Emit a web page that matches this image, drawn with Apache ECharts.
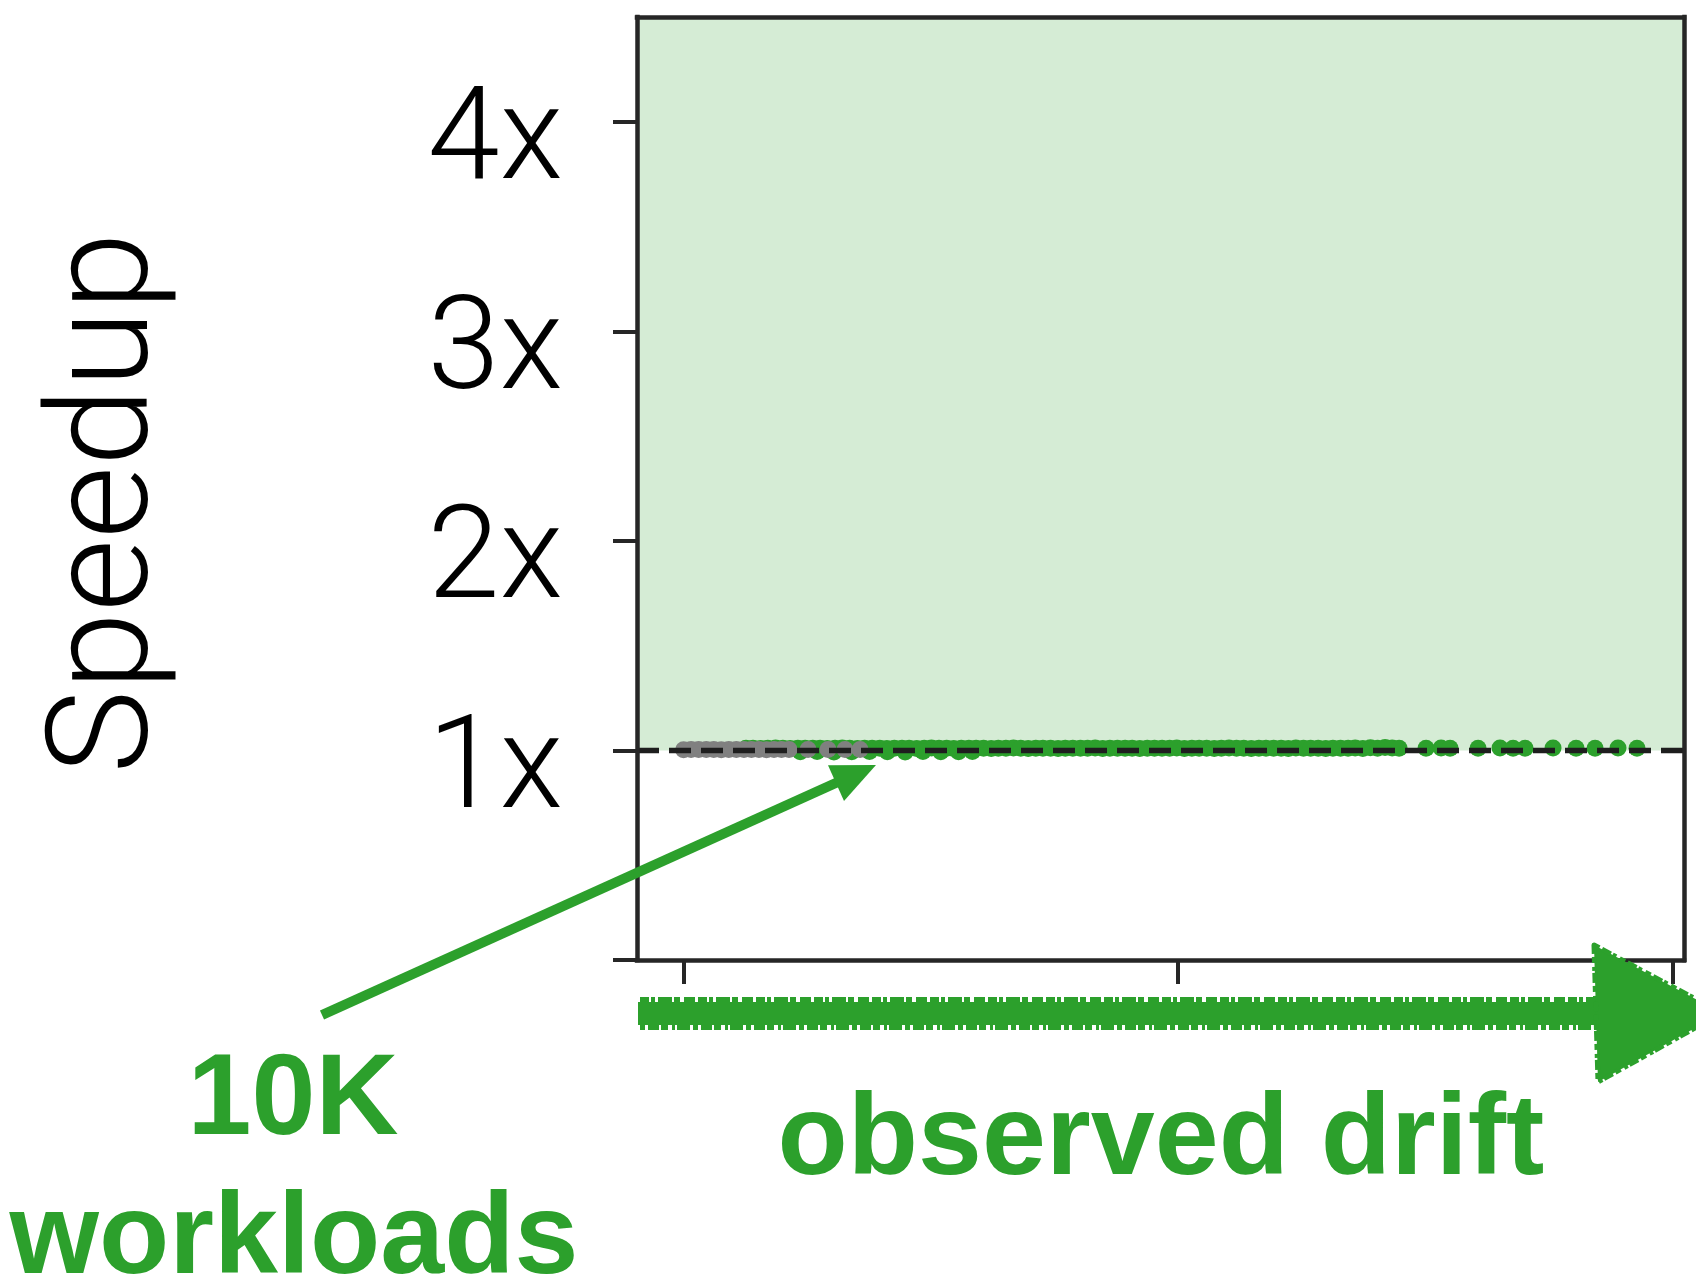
<!DOCTYPE html>
<html>
<head>
<meta charset="utf-8">
<script src="https://cdn.jsdelivr.net/npm/echarts@6/dist/echarts.min.js"></script>
<style>
  html, body { margin: 0; padding: 0; background: #ffffff; }
  #chart { width: 1696px; height: 1283px; }
</style>
</head>
<body>
<div id="chart"></div>
<script>
// Per-workload speedup, workloads ordered by observed drift (x = workload index).
const X_MIN = -471;
const X_MAX = 10114;
const Y_MIN = 0;
const Y_MAX = 4.5;
const xTickValues = [0, 5000, 10000];
const yTickValues = [0, 1, 2, 3, 4];
const yTickLabels = ['', '1x', '2x', '3x', '4x'];
const baselineSpeedup = 1;

// Workloads with speedup measured under drift
const greenX = [
  631, 702, 779, 851, 930, 1004, 1078, 1155, 1229, 1306, 1380, 1452, 1531, 1604, 1679, 1757, 1830, 1906, 1983, 2055,
  2131, 2208, 2280, 2357, 2433, 2506, 2582, 2659, 2731, 2808, 2884, 2957, 3033, 3110, 3182, 3259, 3335, 3408, 3484, 3561,
  3633, 3710, 3786, 3859, 3935, 4012, 4084, 4161, 4237, 4310, 4386, 4463, 4535, 4612, 4688, 4761, 4837, 4914, 4986, 5063,
  5139, 5212, 5288, 5365, 5437, 5514, 5590, 5663, 5739, 5816, 5888, 5965, 6041, 6114, 6190, 6267, 6339, 6416, 6492, 6565,
  6641, 6718, 6790, 6867, 6943, 7016, 7092, 7164, 7234,
  1180, 1350, 1520, 1700, 1880, 2060, 2240, 2420, 2600, 2780, 2920,
  7506, 7658, 7749, 8032, 8254, 8386, 8507, 8790, 9023, 9215, 9447, 9639
];
const greenY = [
  1.010, 1.011, 1.009, 1.010, 1.012, 1.010, 1.009, 1.011, 1.010, 1.010, 1.011, 1.009, 1.010, 1.012, 1.010, 1.009, 1.010, 1.011, 1.010, 1.009,
  1.010, 1.011, 1.010, 1.009, 1.010, 1.012, 1.010, 1.010, 1.009, 1.011, 1.010, 1.010, 1.011, 1.009, 1.010, 1.010, 1.012, 1.010, 1.009, 1.010,
  1.011, 1.010, 1.009, 1.010, 1.010, 1.011, 1.010, 1.012, 1.009, 1.010, 1.010, 1.011, 1.010, 1.009, 1.010, 1.011, 1.010, 1.010, 1.012, 1.009,
  1.010, 1.010, 1.011, 1.009, 1.010, 1.012, 1.010, 1.011, 1.009, 1.010, 1.010, 1.011, 1.010, 1.009, 1.012, 1.010, 1.010, 1.011, 1.009, 1.010,
  1.011, 1.010, 1.012, 1.009, 1.013, 1.011, 1.014, 1.012, 1.011,
  0.994, 0.995, 0.993, 0.994, 0.995, 0.994, 0.993, 0.995, 0.994, 0.994, 0.995,
  1.011, 1.012, 1.010, 1.011, 1.012, 1.011, 1.010, 1.012, 1.011, 1.011, 1.012, 1.011
];

// Workloads without drift
const greyX = [0, 76, 152, 229, 305, 381, 457, 533, 610, 686, 762, 838, 914, 990, 1066, 1258, 1460, 1632, 1784];
const greyY = [1.003, 1.004, 1.004, 1.005, 1.004, 1.003, 1.004, 1.004, 1.005, 1.004, 1.004, 1.003, 1.004, 1.005, 1.004, 1.005, 1.004, 1.004, 1.005];

const GREEN = '#2ca02c';
const GREY = '#808080';
const FRAME = '#262626';
const MARK_SIZE = 17;

const zip = (xs, ys) => xs.map((x, i) => [x, ys[i]]);

const frameLine = { show: true, onZero: false, lineStyle: { color: FRAME, width: 4.5, cap: 'square' } };
const boldFont = 'bold 115px "Liberation Sans", Arial, sans-serif';

const chart = echarts.init(document.getElementById('chart'), null, { renderer: 'canvas' });

const option = {
  animation: false,
  backgroundColor: '#ffffff',
  grid: { left: 637, right: 12, top: 17, bottom: 323, containLabel: false, outerBoundsMode: 'none' },
  xAxis: [
    {
      type: 'value', min: X_MIN, max: X_MAX, position: 'bottom', z: 10,
      axisLine: frameLine,
      axisTick: { show: true, inside: false, length: 24, customValues: xTickValues, lineStyle: { color: FRAME, width: 4 } },
      axisLabel: { show: false },
      splitLine: { show: false }
    },
    {
      type: 'value', min: X_MIN, max: X_MAX, position: 'top', z: 10,
      axisLine: frameLine, axisTick: { show: false }, axisLabel: { show: false }, splitLine: { show: false }
    }
  ],
  yAxis: [
    {
      type: 'value', min: Y_MIN, max: Y_MAX, position: 'left', z: 10,
      axisLine: frameLine,
      axisTick: { show: true, inside: false, length: 24, customValues: yTickValues, lineStyle: { color: FRAME, width: 4 } },
      axisLabel: {
        show: true,
        customValues: yTickValues.filter((v, i) => yTickLabels[i] !== ''),
        formatter: (v) => yTickLabels[yTickValues.indexOf(v)],
        margin: 74,
        fontFamily: 'Roboto',
        fontWeight: 300,
        fontSize: 130,
        color: '#000000',
        verticalAlign: 'top',
        lineHeight: 48
      },
      splitLine: { show: false }
    },
    {
      type: 'value', min: Y_MIN, max: Y_MAX, position: 'right', z: 10,
      axisLine: frameLine, axisTick: { show: false }, axisLabel: { show: false }, splitLine: { show: false }
    }
  ],
  series: [
    {
      name: 'speedup region', type: 'line', data: [], z: 1, silent: true,
      markArea: {
        silent: true,
        itemStyle: { color: 'rgba(44,160,44,0.2)' },
        data: [[{ yAxis: baselineSpeedup }, { yAxis: Y_MAX }]]
      }
    },
    {
      name: 'drift', type: 'scatter', z: 2, silent: true,
      symbol: 'circle', symbolSize: MARK_SIZE,
      itemStyle: { color: GREEN, opacity: 1 },
      data: zip(greenX, greenY)
    },
    {
      name: 'no drift', type: 'scatter', z: 3, silent: true,
      symbol: 'circle', symbolSize: MARK_SIZE,
      itemStyle: { color: GREY, opacity: 1 },
      data: zip(greyX, greyY)
    },
    {
      name: 'baseline', type: 'line', data: [], z: 4, silent: true,
      markLine: {
        silent: true,
        symbol: ['none', 'none'],
        label: { show: false },
        lineStyle: { color: '#1e1e1e', width: 5.3, type: [22, 10], opacity: 1 },
        data: [{ yAxis: baselineSpeedup }]
      }
    }
  ],
  graphic: [
    // axis title
    {
      type: 'text', x: 112, y: 503, rotation: Math.PI / 2, z: 100,
      style: { text: 'Speedup', font: '300 141px Roboto', fill: '#000000', align: 'center', verticalAlign: 'middle' }
    },
    // pointer to the workload cloud
    {
      type: 'line', z: 100,
      shape: { x1: 322, y1: 1015, x2: 838, y2: 782 },
      style: { stroke: GREEN, lineWidth: 10, lineCap: 'butt' }
    },
    {
      type: 'polygon', z: 100,
      shape: { points: [[876, 765], [828, 765.3], [844, 800.9]] },
      style: { fill: GREEN }
    },
    {
      type: 'text', x: 293, y: 1102, z: 100,
      style: { text: '10K', font: boldFont, fill: GREEN, align: 'center', verticalAlign: 'middle' }
    },
    {
      type: 'text', x: 294, y: 1241, z: 100,
      style: { text: 'workloads', font: boldFont, fill: GREEN, align: 'center', verticalAlign: 'middle' }
    },
    // sketched drift arrow under the x axis
    {
      type: 'rect', z: 100,
      shape: { x: 638, y: 1002, width: 962, height: 23 },
      style: { fill: GREEN }
    },
    {
      type: 'line', z: 100,
      shape: { x1: 640, y1: 1000, x2: 1598, y2: 1000 },
      style: { stroke: GREEN, lineWidth: 6, lineDash: [9, 2, 4, 3, 14, 2, 6, 4, 11, 3] }
    },
    {
      type: 'line', z: 100,
      shape: { x1: 640, y1: 1027, x2: 1598, y2: 1027 },
      style: { stroke: GREEN, lineWidth: 6, lineDash: [5, 3, 11, 2, 7, 4, 3, 2, 13, 3] }
    },
    {
      type: 'polygon', z: 100,
      shape: { points: [[1594, 945], [1722, 1013], [1598, 1082]] },
      style: { fill: GREEN, stroke: GREEN, lineWidth: 5, lineDash: [6, 3, 10, 2, 4, 4], lineJoin: 'round' }
    },
    {
      type: 'text', x: 1161, y: 1142, z: 100,
      style: { text: 'observed drift', font: boldFont, fill: GREEN, align: 'center', verticalAlign: 'middle' }
    }
  ]
};

chart.setOption(option);
</script>
</body>
</html>
